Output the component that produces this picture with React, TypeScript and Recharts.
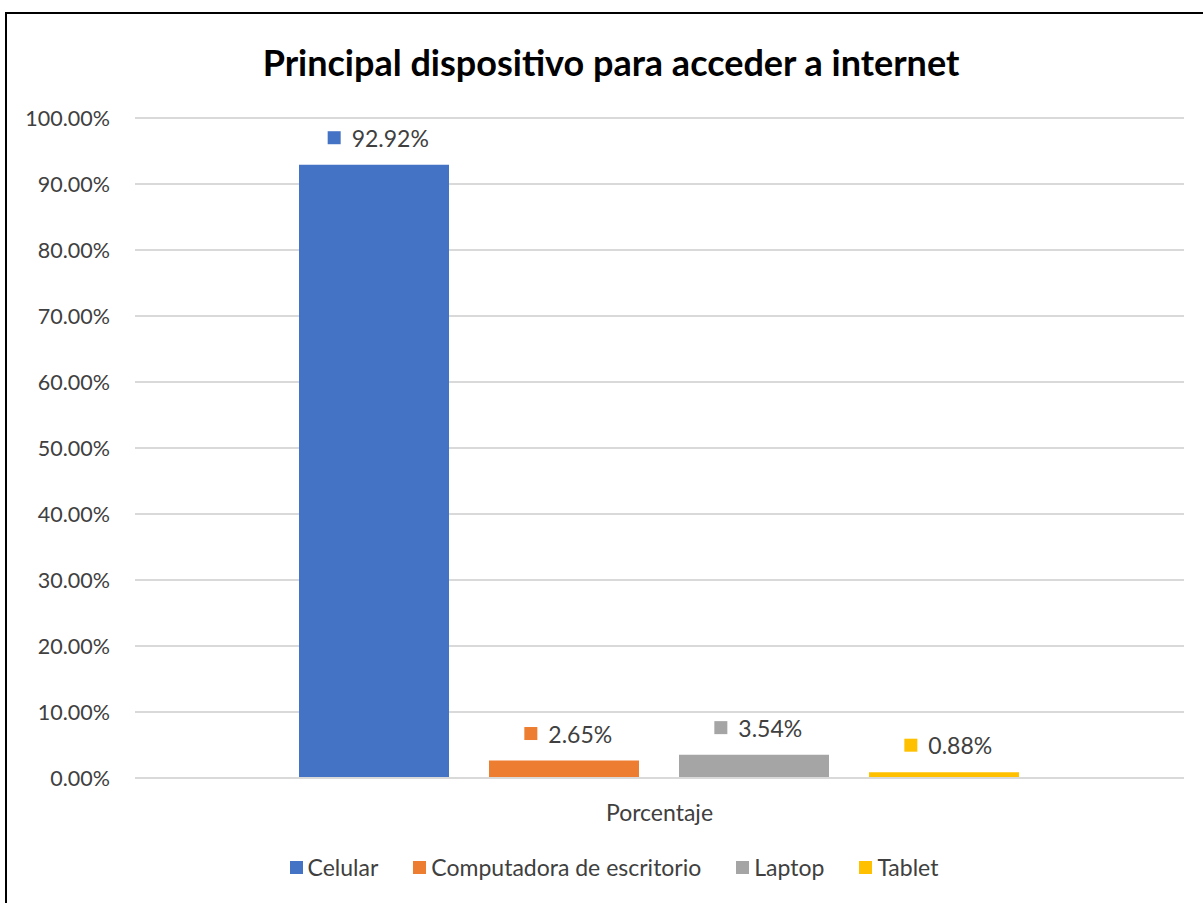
import React from 'react';
import { BarChart, Bar, XAxis, YAxis, CartesianGrid, Legend, LabelList } from 'recharts';

const categories = ['Porcentaje'];
const seriesNames = ['Celular', 'Computadora de escritorio', 'Laptop', 'Tablet'];
const seriesValues = [92.92, 2.65, 3.54, 0.88];
const seriesColors = ['#4472C4', '#ED7D31', '#A5A5A5', '#FFC000'];
const yTicks = [0, 10, 20, 30, 40, 50, 60, 70, 80, 90, 100];
const title = 'Principal dispositivo para acceder a internet';

const data = categories.map((c) => {
  const row: any = { name: c };
  seriesNames.forEach((s, i) => (row[s] = seriesValues[i]));
  return row;
});

const FONT = 'Lato, "Noto Sans", sans-serif';
const LABEL_SIZE = 23;

const estWidth = (s: string) => {
  let w = 0;
  for (const ch of s) {
    if (ch === '.') w += 5;
    else if (ch === '%') w += 17;
    else w += 11.6;
  }
  return (w * LABEL_SIZE) / 20;
};

const makeLabel = (color: string) => (props: any) => {
  const { x, y, width, value } = props;
  const c = Number(x) + Number(width) / 2;
  const txt = `${Number(value).toFixed(2)}%`;
  const tw = estWidth(txt);
  const left = c + 5 - (24 + tw) / 2;
  const cy = Number(y) - 27;
  return (
    <g>
      <rect x={left} y={cy - 6.5} width={13} height={13} fill={color} />
      <text x={left + 24} y={cy} textAnchor="start" dominantBaseline="central" fontSize={LABEL_SIZE} fill="#404040" fontFamily={FONT}>
        {txt}
      </text>
    </g>
  );
};

const XTick = (props: any) => {
  const { x, y, payload } = props;
  return (
    <text x={x} y={y + 34} textAnchor="middle" dominantBaseline="central" fontSize={23} fill="#404040" fontFamily={FONT}>
      {payload.value}
    </text>
  );
};

const LegendContent = () => (
  <div style={{ display: 'flex', justifyContent: 'center', alignItems: 'center', height: 24, paddingLeft: 44, fontFamily: FONT, fontSize: 23, color: '#404040' }}>
    {seriesNames.map((s, i) => (
      <div key={s} style={{ display: 'flex', alignItems: 'center', marginRight: i < seriesNames.length - 1 ? 35 : 0 }}>
        <div style={{ width: 13, height: 13, background: seriesColors[i], marginRight: 5 }} />
        <span>{s}</span>
      </div>
    ))}
  </div>
);

export default function App() {
  return (
    <div style={{ position: 'absolute', left: 0, top: 0, width: 1203, height: 903, background: '#fff', overflow: 'hidden' }}>
      <div style={{ position: 'absolute', left: 5, top: 12, width: 1400, height: 1200, borderLeft: '2px solid #000', borderTop: '2px solid #000' }} />
      <div style={{ position: 'absolute', left: 0, top: 38, width: 1222, textAlign: 'center', fontFamily: FONT, fontWeight: 700, fontSize: 36, color: '#000', lineHeight: '48px' }}>
        {title}
      </div>
      <div style={{ position: 'absolute', left: 0, top: 0 }}>
        <BarChart width={1203} height={903} data={data} margin={{ top: 118, right: 19, left: 0, bottom: 24 }} barCategoryGap={164} barGap={40}>
          <CartesianGrid vertical={false} stroke="#d9d9d9" strokeWidth={2} />
          <XAxis dataKey="name" height={77} axisLine={{ stroke: '#d9d9d9', strokeWidth: 2 }} tickLine={false} tickSize={0} tickMargin={0} tick={<XTick />} />
          <YAxis width={135} domain={[0, 100]} ticks={yTicks} axisLine={false} tickLine={false} tickSize={0} tickMargin={25}
            tickFormatter={(v: number) => `${v.toFixed(2)}%`} tick={{ fontSize: 21.5, fill: '#404040', fontFamily: FONT }} />
          <Legend verticalAlign="bottom" content={<LegendContent />} />
          {seriesNames.map((s, i) => (
            <Bar key={s} dataKey={s} fill={seriesColors[i]} isAnimationActive={false}>
              <LabelList dataKey={s} content={makeLabel(seriesColors[i])} />
            </Bar>
          ))}
        </BarChart>
      </div>
    </div>
  );
}
